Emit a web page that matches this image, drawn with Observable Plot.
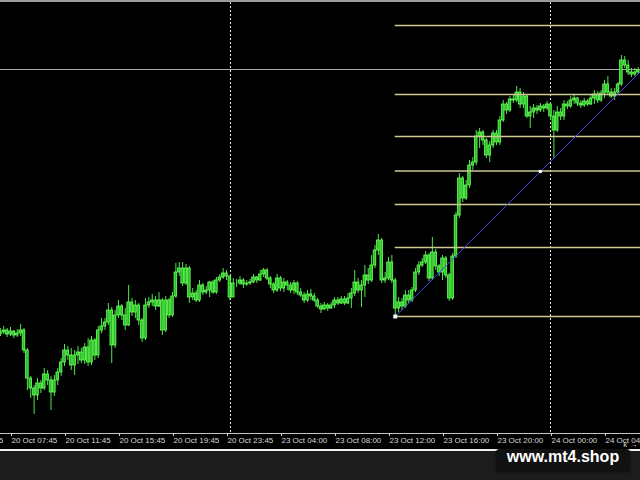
<!DOCTYPE html>
<html><head><meta charset="utf-8">
<script src="https://cdn.jsdelivr.net/npm/d3@7"></script>
<script src="https://cdn.jsdelivr.net/npm/@observablehq/plot@0.6"></script>
<style>
html,body{margin:0;padding:0;background:#1c1c1c;width:640px;height:480px;overflow:hidden}
#wrap{position:relative;width:640px;height:480px}
#chart{border-top:2px solid #9c9c9c;border-bottom:2px solid #f0f0f0;width:640px;height:447px;background:#000}
#chart svg{display:block}
#wm{position:absolute;left:496px;top:449px;width:134px;height:23px;background:#111;border-radius:4px;color:#fff;font:bold 16px "Liberation Sans",Arial,sans-serif;text-align:center;line-height:16px;box-shadow:0 0 3px rgba(0,0,0,.6)}
</style></head>
<body><div id="wrap"><div id="chart"></div><div id="wm">www.mt4.shop</div></div>
<script>
// M15 bars, index 0 = 20 Oct 07:45
const firstBar = -3;
const open = [106,108,110,106,109,105,107,110,90,62,
52,45,57,52,66,60,48,60,68,78,
90,85,75,85,88,80,93,78,100,85,
110,114,118,130,95,125,134,125,115,138,
128,135,120,102,135,138,140,134,140,110,
140,125,144,168,172,157,172,143,147,140,
155,148,150,158,148,160,163,167,164,143,
157,157,160,156,157,158,163,160,166,170,
162,156,150,162,152,158,155,150,157,148,
145,140,146,144,140,134,131,135,132,135,
140,137,141,137,142,147,158,150,155,165,
160,175,190,200,160,162,178,160,132,138,
134,145,140,150,168,175,178,185,162,188,
174,168,182,165,142,184,225,262,242,255,
275,278,304,308,300,285,295,307,298,320,
336,330,341,340,348,336,344,324,328,332,
330,334,332,336,324,310,328,324,336,334,
340,342,337,335,339,336,342,346,340,347,
356,348,344,348,356,380,375,368,366,368];
const high = [112,114,112,113,110,111,116,112,92,64,
55,62,60,72,70,64,65,72,82,96,
94,92,90,94,92,97,102,104,102,114,
122,122,137,133,130,140,136,132,155,142,
140,137,122,142,143,146,144,148,142,144,
142,148,177,178,178,176,174,152,150,160,
157,154,159,160,163,166,172,170,164,162,
161,164,162,160,161,166,164,170,172,172,
164,158,166,164,162,160,158,160,159,152,
148,150,151,147,142,137,138,137,138,143,
143,144,144,147,152,170,162,160,175,172,
185,195,206,202,168,183,185,162,143,142,
150,150,153,172,179,182,189,187,203,191,
176,185,184,167,187,228,267,264,260,280,
283,310,312,310,302,299,310,310,324,340,
338,344,346,354,352,348,345,334,336,335,
337,336,339,338,330,334,332,340,339,344,
345,343,340,342,341,345,350,349,350,360,
364,352,352,358,385,384,380,372,372,373];
const low = [104,106,103,104,102,103,104,87,50,42,
26,40,47,50,55,30,44,55,64,74,
80,70,65,76,77,76,74,75,80,82,
107,110,115,77,92,122,120,110,114,124,
122,115,98,100,132,134,130,133,105,108,
122,123,142,164,154,155,137,140,138,138,
145,146,143,146,146,158,161,160,140,143,
153,155,152,154,155,157,157,159,163,160,
152,147,148,149,148,150,147,146,145,143,
137,138,140,138,132,127,130,129,131,132,
135,136,135,136,132,144,147,133,143,156,
158,172,185,157,157,160,157,124,128,130,
132,137,138,148,165,173,176,159,160,170,
164,160,162,139,140,182,222,238,240,252,
270,275,292,295,282,278,292,295,295,318,
326,328,337,338,332,332,322,312,322,326,
328,328,330,320,282,308,320,320,331,332,
336,334,332,333,334,335,336,337,338,342,
345,342,340,346,354,372,365,363,364,366];
const close = [108,110,106,109,105,107,110,90,62,52,
45,57,52,66,60,48,60,68,78,90,
85,75,85,88,80,93,78,100,85,110,
114,118,130,95,125,134,125,115,138,128,
135,120,102,135,138,140,134,140,110,140,
125,144,168,172,157,172,143,147,140,155,
148,150,158,148,160,163,167,164,143,157,
157,160,156,157,158,163,160,166,170,162,
156,150,162,152,158,155,150,157,148,145,
140,146,144,140,134,131,135,132,135,140,
137,141,137,142,147,158,150,155,165,160,
175,190,200,160,162,178,160,132,138,134,
145,140,150,168,175,178,185,162,188,174,
168,182,165,142,184,225,262,242,255,275,
278,304,308,300,285,295,307,298,320,336,
330,341,340,348,336,344,324,328,332,330,
334,332,336,324,310,328,324,336,334,340,
342,337,335,339,336,342,346,340,347,356,
348,344,348,356,380,375,368,366,368,370];

const tickBars = [-16,0,16,32,48,64,80,96,112,128,144,160,176];
const tickLabels = ["20 Oct 03:45","20 Oct 07:45","20 Oct 11:45","20 Oct 15:45","20 Oct 19:45","20 Oct 23:45","23 Oct 04:00","23 Oct 08:00","23 Oct 12:00","23 Oct 16:00","23 Oct 20:00","24 Oct 00:00","24 Oct 04:00"];
const daySeparators = [65.2, 160];
const horizontalLine = [371];
const fibLevels = [124, 193, 236, 269.5, 304, 346, 415];
const fibStartBar = 114;
const trendPoints = [{k:114, v:124}, {k:186.67, v:369}];
const trendAnchor = [{k:157, v:269}];
const fibAnchor = [{k:114, v:124}];
const xDomain = [-2.963, 186.667];
const yDomain = [7, 438];

const candles = open.map((o, i) => ({k: firstBar + i, open: o, high: high[i], low: low[i], close: close[i]}));

const chart = Plot.plot({
  width: 640, height: 447,
  marginTop: 0, marginBottom: 16, marginLeft: 0, marginRight: 0,
  x: {domain: xDomain, axis: null},
  y: {domain: yDomain, axis: null},
  style: {background: "#000", color: "#d8d8d8", fontFamily: "'Liberation Sans', Arial, sans-serif", fontSize: "8px"},
  marks: [
    Plot.ruleY(horizontalLine, {stroke: "#a8a8a8", strokeWidth: 1.2}),
    Plot.ruleX(daySeparators, {stroke: "#e6e6e6", strokeDasharray: "2,2", strokeWidth: 1}),
    Plot.ruleX(candles, {x: "k", y1: "low", y2: "high", stroke: "#4ae84a", strokeWidth: 1}),
    Plot.rect(candles, {x1: d => d.k - 0.38, x2: d => d.k + 0.38, y1: "open", y2: "close", fill: "#26c026", stroke: "#70ff5e", strokeWidth: 0.8}),
    Plot.ruleY(fibLevels, {x1: fibStartBar, x2: xDomain[1], stroke: "#cdc994", strokeWidth: 1.3}),
    Plot.line(trendPoints, {x: "k", y: "v", stroke: "#4848e8", strokeWidth: 1}),
    Plot.dot(trendAnchor, {x: "k", y: "v", r: 1.8, fill: "white"}),
    Plot.dot(fibAnchor, {x: "k", y: "v", r: 2.2, symbol: "square", fill: "white"}),
    Plot.ruleY([yDomain[0]], {stroke: "#c4c4c4", strokeWidth: 1}),
    Plot.axisX(tickBars, {tickFormat: k => tickLabels[tickBars.indexOf(k)], tickSize: 3, tickPadding: 1, textAnchor: "start", dx: 1, fontSize: 8, color: "#d8d8d8"})
  ]
});
document.getElementById("chart").appendChild(chart);
</script>
</body></html>
